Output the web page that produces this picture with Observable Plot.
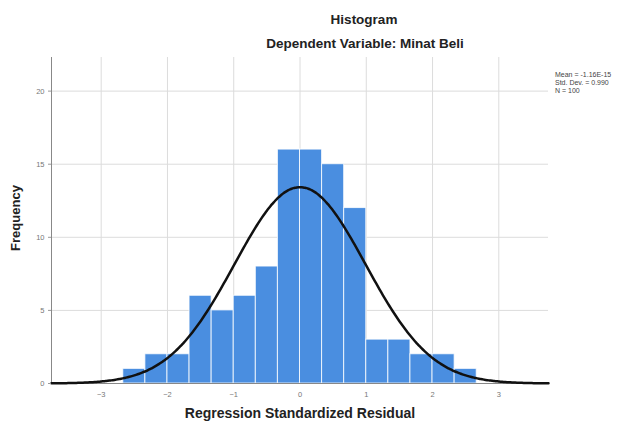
<!DOCTYPE html>
<html>
<head>
<meta charset="utf-8">
<script src="https://cdn.jsdelivr.net/npm/d3@7"></script>
<script src="https://cdn.jsdelivr.net/npm/@observablehq/plot@0.6"></script>
<style>
  body { margin: 0; background: #fff; }
  #wrap { position: relative; width: 629px; height: 425px; font-family: "Liberation Sans", Arial, sans-serif; }
  .t { position: absolute; white-space: nowrap; color: #222; line-height: 1; }
  .leg { position: absolute; left: 555px; white-space: nowrap; font-size: 7px; line-height: 7px; color: #444; }
</style>
</head>
<body>
<div id="wrap">
  <div class="t" style="left:364px;top:13px;transform:translateX(-50%);font-size:13.5px;font-weight:bold;">Histogram</div>
  <div class="t" style="left:365px;top:37px;transform:translateX(-50%);font-size:13.5px;font-weight:bold;">Dependent Variable: Minat Beli</div>
  <div class="t" style="left:300px;top:406px;transform:translateX(-50%);font-size:14px;font-weight:bold;">Regression Standardized Residual</div>
  <div class="t" style="left:15px;top:218px;transform:translate(-50%,-50%) rotate(-90deg);font-size:13px;font-weight:bold;">Frequency</div>
  <div class="leg" style="top:71px;">Mean = -1.16E-15</div>
  <div class="leg" style="top:79px;">Std. Dev. = 0.990</div>
  <div class="leg" style="top:87px;">N = 100</div>
</div>
<script>
// Histogram data
const binStart = -8 / 3;
const binWidth = 1 / 3;
const counts = [1, 2, 2, 6, 5, 6, 8, 16, 16, 15, 12, 3, 3, 2, 2, 1];
const xTicks = [-3, -2, -1, 0, 1, 2, 3];
const yTicks = [0, 5, 10, 15, 20];
// Summary statistics (from legend)
const mean = -1.16e-15;
const stdDev = 0.990;
const n = 100;

const bins = counts.map((c, i) => ({
  x1: binStart + i * binWidth,
  x2: binStart + (i + 1) * binWidth,
  y: c
}));

// Fitted normal curve implied by mean, std dev, N
const curve = d3.range(-3.75, 3.7501, 0.025).map(x => ({
  x,
  y: n * binWidth * Math.exp(-0.5 * ((x - mean) / stdDev) ** 2) / (stdDev * Math.sqrt(2 * Math.PI))
}));

const chart = Plot.plot({
  width: 629,
  height: 425,
  marginTop: 57,
  marginBottom: 42,
  marginLeft: 51,
  marginRight: 81,
  style: { fontFamily: "Liberation Sans, Arial, sans-serif", background: "transparent" },
  x: { domain: [-3.75, 3.75], ticks: xTicks, label: null, tickSize: 0, tickPadding: 8 },
  y: { domain: [0, 22.3], ticks: yTicks, label: null, tickSize: 3, tickPadding: 4 },
  marks: [
    Plot.gridY(yTicks.filter(d => d > 0), { stroke: "#dcdcdc", strokeOpacity: 1 }),
    Plot.gridX(xTicks, { stroke: "#dcdcdc", strokeOpacity: 1 }),
    Plot.rectY(bins, { x1: "x1", x2: "x2", y: "y", fill: "#4a8ee0", stroke: "#ffffff", strokeWidth: 1, strokeOpacity: 0.8 }),
    Plot.ruleX([-3.75], { stroke: "#888" }),
    Plot.ruleY([0], { stroke: "#888" }),
    Plot.line(curve, { x: "x", y: "y", stroke: "#111", strokeWidth: 2.5, curve: "basis" }),
    Plot.axisX({ ticks: xTicks, tickSize: 0, tickPadding: 8, fontSize: 7.5, fill: "#777", label: null }),
    Plot.axisY({ ticks: yTicks, tickSize: 3, tickPadding: 4, fontSize: 7.5, fill: "#777", stroke: "#999", label: null })
  ]
});
chart.style.position = "absolute";
chart.style.left = "0px";
chart.style.top = "0px";
document.getElementById("wrap").prepend(chart);
</script>
</body>
</html>
